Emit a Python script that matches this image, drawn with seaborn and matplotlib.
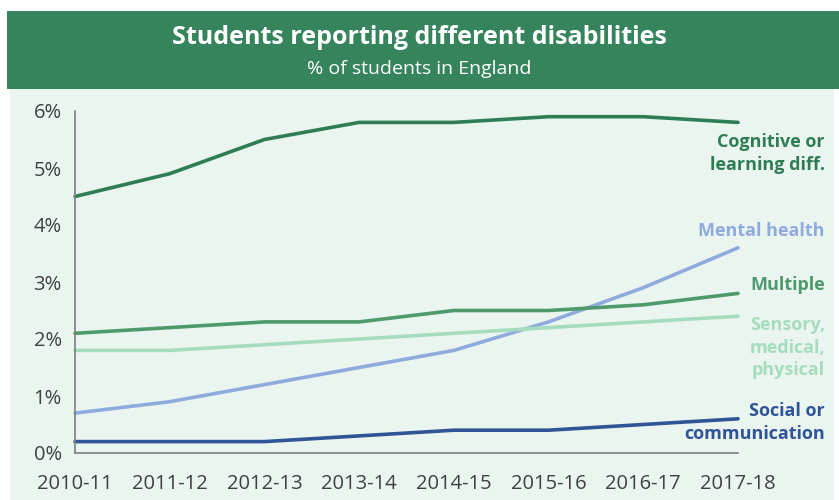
import pandas as pd
import matplotlib.pyplot as plt
import seaborn as sns
from matplotlib.patches import Rectangle
from matplotlib.ticker import FuncFormatter

# Data (% of students in England)
years = ['2010-11', '2011-12', '2012-13', '2013-14', '2014-15', '2015-16', '2016-17', '2017-18']
cognitive = [4.5, 4.9, 5.5, 5.8, 5.8, 5.9, 5.9, 5.8]
mental_health = [0.7, 0.9, 1.2, 1.5, 1.8, 2.3, 2.9, 3.6]
multiple = [2.1, 2.2, 2.3, 2.3, 2.5, 2.5, 2.6, 2.8]
sensory = [1.8, 1.8, 1.9, 2.0, 2.1, 2.2, 2.3, 2.4]
social = [0.2, 0.2, 0.2, 0.3, 0.4, 0.4, 0.5, 0.6]

series = {
    'Cognitive or\nlearning diff.': cognitive,
    'Mental health': mental_health,
    'Multiple': multiple,
    'Sensory,\nmedical,\nphysical': sensory,
    'Social or\ncommunication': social,
}
colors = {
    'Cognitive or\nlearning diff.': '#2E7D55',
    'Mental health': '#8FAADC',
    'Multiple': '#4E9A6C',
    'Sensory,\nmedical,\nphysical': '#A6DCBE',
    'Social or\ncommunication': '#2F5597',
}
# vertical position (in data units) of the end labels
label_y = {
    'Cognitive or\nlearning diff.': 5.25,
    'Mental health': 3.9,
    'Multiple': 2.94,
    'Sensory,\nmedical,\nphysical': 1.85,
    'Social or\ncommunication': 0.54,
}

rows = []
for name, vals in series.items():
    for i, v in enumerate(vals):
        rows.append({'year': i, 'group': name, 'value': v})
df = pd.DataFrame(rows)

sns.set_style('white')
plt.rcParams['font.family'] = ['Open Sans', 'DejaVu Sans']

fig = plt.figure(figsize=(8.39, 5.0), dpi=100)
fig.patch.set_facecolor('white')

# light panel and green header band
fig.add_artist(Rectangle((10/839, 0), 824/839, 411/500, transform=fig.transFigure,
                         facecolor='#EBF5F0', edgecolor='none', zorder=0))
fig.add_artist(Rectangle((7/839, 411/500), 832/839, 78/500, transform=fig.transFigure,
                         facecolor='#35845C', edgecolor='none', zorder=0))
fig.text(0.5, 0.926, 'Students reporting different disabilities', ha='center', va='center',
         color='white', fontsize=18, fontweight='bold')
fig.text(0.5, 0.862, '% of students in England', ha='center', va='center',
         color='white', fontsize=14)

ax = fig.add_axes([75/839, 47/500, 663/839, 342/500])
ax.set_facecolor('none')

sns.lineplot(data=df, x='year', y='value', hue='group', palette=colors, linewidth=2.6,
             legend=False, ax=ax, clip_on=False)

ax.set_xlim(0, 7)
ax.set_ylim(0, 6)
ax.set_xticks(range(len(years)))
ax.set_xticklabels(years)
ax.set_yticks(range(0, 7))
ax.yaxis.set_major_formatter(FuncFormatter(lambda v, p: f'{int(v)}%'))
ax.set_xlabel('')
ax.set_ylabel('')
for s in ['top', 'right']:
    ax.spines[s].set_visible(False)
for s in ['left', 'bottom']:
    ax.spines[s].set_color('#808080')
    ax.spines[s].set_linewidth(1.2)
ax.tick_params(axis='both', colors='#808080', length=6, width=1.2, direction='out',
               labelcolor='#404040', labelsize=14.5)
ax.tick_params(axis='x', pad=9)

# end labels, right aligned near the panel edge
for name, y in label_y.items():
    fig_y = ax.transData.transform((0, y))[1] / 500
    fig.text(825/839, fig_y, name, ha='right', va='center', color=colors[name],
             fontsize=13, fontweight='bold', linespacing=1.35)

fig.savefig('out.png', dpi=100)
